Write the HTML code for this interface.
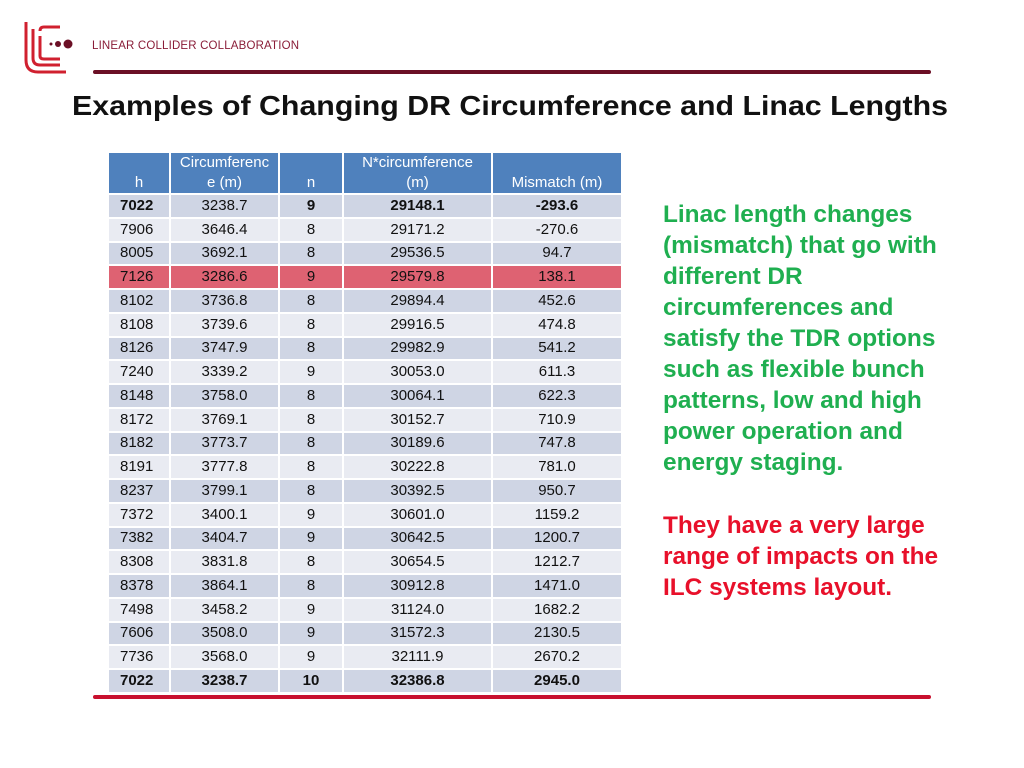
<!DOCTYPE html>
<html><head><meta charset="utf-8">
<style>
body{margin:0;width:1024px;height:768px;background:#fff;position:relative;overflow:hidden;font-family:"Liberation Sans",sans-serif}
.abs{position:absolute}
table{position:absolute;left:107px;top:151px;border-collapse:collapse;table-layout:fixed}
td,th{border:2px solid #fff;padding:0;font-size:15px;color:#111;text-align:center;height:21.75px;line-height:20px}
th{background:#4f81bd;color:#fff;font-weight:normal;height:40px;vertical-align:bottom;line-height:20px}
tr.d td{background:#cfd5e4}
tr.l td{background:#e9ebf2}
tr.r td{background:#de6272}
tr.b td{font-weight:bold}
td.h{text-align:left;padding-left:11px}
.side{position:absolute;left:663px;font-weight:bold;font-size:24.4px;line-height:31px}
</style></head><body>
<svg class="abs" style="left:0;top:0" width="320" height="90">
<path d="M26 22 V60 Q26 72 38 72 H66" stroke="#d0202f" stroke-width="3" fill="none"/>
<path d="M33 29 V58 Q33 65 40 65 H60" stroke="#d0202f" stroke-width="3" fill="none"/>
<path d="M40 36 V56 Q40 59 44 59 H60" stroke="#d0202f" stroke-width="3" fill="none"/>
<path d="M60 27 H44 Q40 27 40 31" stroke="#d0202f" stroke-width="3" fill="none"/>
<circle cx="51" cy="44" r="1.5" fill="#6b0f25"/><circle cx="58" cy="44" r="3" fill="#6b0f25"/><circle cx="68" cy="44" r="4.5" fill="#6b0f25"/>
<text x="92" y="49" font-family="Liberation Sans" font-size="11.5" fill="#8a1d38" textLength="207">LINEAR COLLIDER COLLABORATION</text>
</svg>
<div class="abs" style="left:93px;top:70px;width:838px;height:4px;background:#6b0f25;border-radius:2px"></div>
<svg class="abs" style="left:0;top:80px" width="1024" height="50">
<text x="72" y="35" font-family="Liberation Sans" font-weight="bold" font-size="28" fill="#111" textLength="876" lengthAdjust="spacingAndGlyphs">Examples of Changing DR Circumference and Linac Lengths</text>
</svg>
<table>
<colgroup><col style="width:62px"><col style="width:109px"><col style="width:64px"><col style="width:149px"><col style="width:130px"></colgroup>
<tr><th>h</th><th>Circumferenc<br>e (m)</th><th>n</th><th>N*circumference<br>(m)</th><th>Mismatch (m)</th></tr>
<tr class="d b"><td class="h">7022</td><td style="font-weight:normal">3238.7</td><td>9</td><td>29148.1</td><td>-293.6</td></tr>
<tr class="l"><td class="h">7906</td><td>3646.4</td><td>8</td><td>29171.2</td><td>-270.6</td></tr>
<tr class="d"><td class="h">8005</td><td>3692.1</td><td>8</td><td>29536.5</td><td>94.7</td></tr>
<tr class="r"><td class="h">7126</td><td>3286.6</td><td>9</td><td>29579.8</td><td>138.1</td></tr>
<tr class="d"><td class="h">8102</td><td>3736.8</td><td>8</td><td>29894.4</td><td>452.6</td></tr>
<tr class="l"><td class="h">8108</td><td>3739.6</td><td>8</td><td>29916.5</td><td>474.8</td></tr>
<tr class="d"><td class="h">8126</td><td>3747.9</td><td>8</td><td>29982.9</td><td>541.2</td></tr>
<tr class="l"><td class="h">7240</td><td>3339.2</td><td>9</td><td>30053.0</td><td>611.3</td></tr>
<tr class="d"><td class="h">8148</td><td>3758.0</td><td>8</td><td>30064.1</td><td>622.3</td></tr>
<tr class="l"><td class="h">8172</td><td>3769.1</td><td>8</td><td>30152.7</td><td>710.9</td></tr>
<tr class="d"><td class="h">8182</td><td>3773.7</td><td>8</td><td>30189.6</td><td>747.8</td></tr>
<tr class="l"><td class="h">8191</td><td>3777.8</td><td>8</td><td>30222.8</td><td>781.0</td></tr>
<tr class="d"><td class="h">8237</td><td>3799.1</td><td>8</td><td>30392.5</td><td>950.7</td></tr>
<tr class="l"><td class="h">7372</td><td>3400.1</td><td>9</td><td>30601.0</td><td>1159.2</td></tr>
<tr class="d"><td class="h">7382</td><td>3404.7</td><td>9</td><td>30642.5</td><td>1200.7</td></tr>
<tr class="l"><td class="h">8308</td><td>3831.8</td><td>8</td><td>30654.5</td><td>1212.7</td></tr>
<tr class="d"><td class="h">8378</td><td>3864.1</td><td>8</td><td>30912.8</td><td>1471.0</td></tr>
<tr class="l"><td class="h">7498</td><td>3458.2</td><td>9</td><td>31124.0</td><td>1682.2</td></tr>
<tr class="d"><td class="h">7606</td><td>3508.0</td><td>9</td><td>31572.3</td><td>2130.5</td></tr>
<tr class="l"><td class="h">7736</td><td>3568.0</td><td>9</td><td>32111.9</td><td>2670.2</td></tr>
<tr class="d b"><td class="h">7022</td><td>3238.7</td><td>10</td><td>32386.8</td><td>2945.0</td></tr>
</table>
<div class="abs" style="left:93px;top:695px;width:838px;height:4px;background:#c8102e;border-radius:2px"></div>
<div class="side" style="top:199px;color:#1faf50">Linac length changes<br>(mismatch) that go with<br>different DR<br>circumferences and<br>satisfy the TDR options<br>such as flexible bunch<br>patterns, low and high<br>power operation and<br>energy staging.</div>
<div class="side" style="top:510px;color:#e8102a">They have a very large<br>range of impacts on the<br>ILC systems layout.</div>
</body></html>
